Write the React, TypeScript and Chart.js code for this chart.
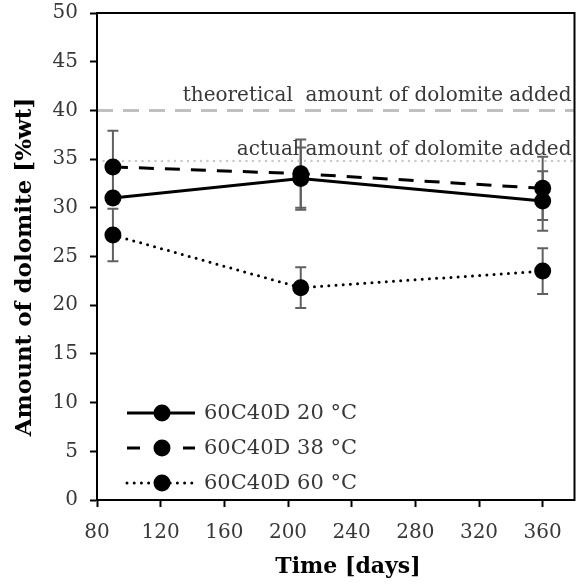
import React, { useEffect, useRef } from "react";
import { Chart, registerables } from "chart.js";

Chart.register(...registerables);

// ---- data ----
const days = [90, 208, 360];
const seriesLabels = ["60C40D 20 °C", "60C40D 38 °C", "60C40D 60 °C"];
const values20 = [31.0, 33.0, 30.7];
const values38 = [34.2, 33.5, 32.0];
const values60 = [27.2, 21.8, 23.5];
const err20 = [0.6, 3.2, 3.05];
const err38 = [3.7, 3.5, 3.25];
const err60 = [2.7, 2.1, 2.35];
const theoreticalAmount = 40;
const actualAmount = 34.8;
const refLabels = ["theoretical  amount of dolomite added", "actual amount of dolomite added"];
const xRange = [80, 380];
const yRange = [0, 50];
const xTitle = "Time [days]";
const yTitle = "Amount of dolomite [%wt]";

const FONT = "'DejaVu Serif', serif";
const TEXT = "#383838";

const seriesValues = [values20, values38, values60];
const seriesErr = [err20, err38, err60];
const seriesDash: number[][] = [[], [15, 11], [0, 7.2]];

const mk = (vals: number[]) => days.map((d, i) => ({ x: d, y: vals[i] }));

const errorBarPlugin = {
  id: "errorBars",
  beforeDatasetsDraw(chart: any) {
    const { ctx, scales } = chart;
    const xs = scales.x, ys = scales.y;
    ctx.save();
    ctx.strokeStyle = "#606060";
    ctx.lineWidth = 2;
    seriesValues.forEach((vals, s) => {
      vals.forEach((v, i) => {
        const e = seriesErr[s][i];
        const px = xs.getPixelForValue(days[i]);
        const top = ys.getPixelForValue(v + e);
        const bot = ys.getPixelForValue(v - e);
        ctx.beginPath();
        ctx.moveTo(px, top);
        ctx.lineTo(px, bot);
        ctx.moveTo(px - 5.5, top);
        ctx.lineTo(px + 5.5, top);
        ctx.moveTo(px - 5.5, bot);
        ctx.lineTo(px + 5.5, bot);
        ctx.stroke();
      });
    });
    ctx.restore();
  },
};

const decorPlugin = {
  id: "decor",
  afterDraw(chart: any) {
    const { ctx, chartArea, scales } = chart;
    const ys = scales.y;
    ctx.save();
    // box
    ctx.strokeStyle = "#000";
    ctx.lineWidth = 2;
    ctx.strokeRect(chartArea.left, chartArea.top, chartArea.right - chartArea.left, chartArea.bottom - chartArea.top);
    // reference labels
    ctx.fillStyle = TEXT;
    ctx.font = `20px ${FONT}`;
    ctx.textAlign = "right";
    ctx.textBaseline = "alphabetic";
    ctx.fillText(refLabels[0], chartArea.right - 3, ys.getPixelForValue(theoreticalAmount) - 9);
    ctx.fillText(refLabels[1], chartArea.right - 3, ys.getPixelForValue(actualAmount) - 6);
    // legend
    const rows = [413, 448, 483];
    chart.data.datasets.slice(0, 3).forEach((ds: any, i: number) => {
      const y = rows[i];
      ctx.save();
      ctx.strokeStyle = "#000";
      ctx.lineWidth = 3;
      ctx.lineCap = i === 2 ? "round" : "butt";
      ctx.setLineDash(i === 1 ? [13, 15] : seriesDash[i]);
      ctx.beginPath();
      ctx.moveTo(127, y);
      ctx.lineTo(195, y);
      ctx.stroke();
      ctx.setLineDash([]);
      ctx.fillStyle = "#000";
      ctx.beginPath();
      ctx.arc(162, y, 8.5, 0, Math.PI * 2);
      ctx.fill();
      ctx.restore();
      ctx.fillStyle = TEXT;
      ctx.font = `21px ${FONT}`;
      ctx.textAlign = "left";
      ctx.textBaseline = "middle";
      ctx.fillText(ds.label, 204, y + 1);
    });
    // axis titles
    ctx.fillStyle = "#000";
    ctx.font = `bold 22px ${FONT}`;
    ctx.textAlign = "center";
    ctx.textBaseline = "middle";
    ctx.fillText(xTitle, 348, 567);
    ctx.font = `bold 23px ${FONT}`;
    ctx.translate(25, 267);
    ctx.rotate(-Math.PI / 2);
    ctx.fillText(yTitle, 0, 0);
    ctx.restore();
  },
};

export default function App() {
  const ref = useRef<HTMLCanvasElement>(null);
  useEffect(() => {
    const datasets: any[] = seriesValues.map((vals, s) => ({
      label: seriesLabels[s],
      data: mk(vals),
      borderColor: "#000",
      backgroundColor: "#000",
      borderWidth: 3,
      borderDash: seriesDash[s],
      borderCapStyle: s === 2 ? "round" : "butt",
      pointRadius: 8.5,
      pointHoverRadius: 8.5,
      pointBackgroundColor: "#000",
      pointBorderWidth: 0,
      tension: 0,
      order: 1,
    }));
    datasets.push({
      label: "theoretical",
      data: [{ x: xRange[0], y: theoreticalAmount }, { x: xRange[1], y: theoreticalAmount }],
      borderColor: "#c0c0c0",
      borderWidth: 3,
      borderDash: [16, 10],
      pointRadius: 0,
      order: 5,
    });
    datasets.push({
      label: "actual",
      data: [{ x: xRange[0], y: actualAmount }, { x: xRange[1], y: actualAmount }],
      borderColor: "#c8c8c8",
      borderWidth: 2.5,
      borderDash: [0, 6.5],
      borderCapStyle: "round",
      pointRadius: 0,
      order: 5,
    });
    const chart = new Chart(ref.current!, {
      type: "line",
      data: { datasets },
      plugins: [errorBarPlugin, decorPlugin],
      options: {
        animation: false,
        responsive: false,
        maintainAspectRatio: false,
        layout: { padding: { top: 13, right: 8, left: 0, bottom: 0 } },
        plugins: { legend: { display: false }, tooltip: { enabled: false } },
        scales: {
          x: {
            type: "linear",
            min: xRange[0],
            max: xRange[1],
            afterFit: (s: any) => { s.height = 87; s.paddingLeft = 0; s.paddingRight = 0; },
            ticks: { stepSize: 40, includeBounds: false, color: TEXT, font: { family: FONT, size: 20 }, padding: 14 },
            grid: { drawOnChartArea: false, drawTicks: true, tickLength: 7, tickColor: "#000", tickWidth: 2 },
            border: { display: true, color: "#000", width: 2 },
          },
          y: {
            type: "linear",
            min: yRange[0],
            max: yRange[1],
            afterFit: (s: any) => { s.width = 97; s.paddingTop = 0; s.paddingBottom = 0; },
            ticks: { stepSize: 5, color: TEXT, font: { family: FONT, size: 20 }, padding: 12 },
            grid: { drawOnChartArea: false, drawTicks: true, tickLength: 7, tickColor: "#000", tickWidth: 2 },
            border: { display: true, color: "#000", width: 2 },
          },
        },
      },
    });
    return () => chart.destroy();
  }, []);
  return (
    <div style={{ position: "fixed", left: 0, top: 0, width: 583, height: 587, background: "#fff" }}>
      <canvas ref={ref} width={583} height={587} style={{ display: "block" }} />
    </div>
  );
}
